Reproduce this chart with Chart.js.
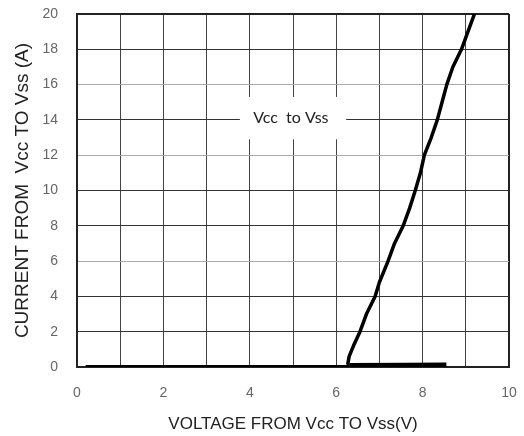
<!DOCTYPE html>
<html><head><meta charset="utf-8">
<script src="https://cdn.jsdelivr.net/npm/chart.js@4/dist/chart.umd.min.js"></script>
<style>html,body{margin:0;padding:0;background:#fff}#wrap{width:524px;height:436px}</style>
</head><body><div id="wrap"><canvas id="c" width="524" height="436"></canvas></div>
<script>
const xTicks = [0, 2, 4, 6, 8, 10];
const yTicks = [0, 2, 4, 6, 8, 10, 12, 14, 16, 18, 20];
const lightYGrid = [6, 12, 16];
const offVoltage = [0.2, 6.3];
const offCurrent = [0, 0];
const tailVoltage = [6.3, 7.6, 8.55];
const tailCurrent = [0.08, 0.1, 0.12];
const riseVoltage = [6.27, 6.3, 6.4, 6.55, 6.7, 6.9, 7.0, 7.2, 7.35, 7.55, 7.7, 7.83, 7.95, 8.04, 8.2, 8.34, 8.45, 8.56, 8.7, 8.9, 9.05, 9.2];
const riseCurrent = [0.2, 0.6, 1.2, 2, 3, 4, 4.8, 6, 7, 8, 9, 10, 11, 12, 13, 14, 15, 16, 17, 18, 19, 20];
const labelText = 'Vcc  to Vss';
const labelPos = {x: 4.95, y: 14.1};
const labelBox = {x0: 3.77, x1: 6.23, y0: 12.9, y1: 15.3};

const pts = (xs, ys) => xs.map((x, i) => ({x, y: ys[i]}));

const labelPlugin = {
  id: 'labelBox',
  beforeDatasetsDraw(chart) {
    const {ctx, scales: {x, y}} = chart;
    const l = x.getPixelForValue(labelBox.x0), r = x.getPixelForValue(labelBox.x1);
    const t = y.getPixelForValue(labelBox.y1), b = y.getPixelForValue(labelBox.y0);
    ctx.save();
    ctx.fillStyle = '#fff';
    ctx.fillRect(l, t, r - l, b - t);
    ctx.fillStyle = '#222';
    ctx.font = '16px Lato, "Open Sans", sans-serif';
    ctx.textAlign = 'center';
    ctx.textBaseline = 'middle';
    ctx.fillText(labelText, x.getPixelForValue(labelPos.x), y.getPixelForValue(labelPos.y));
    ctx.restore();
  }
};

const tickFont = {family: '"Liberation Sans Narrow", "Liberation Sans", sans-serif', size: 14};

new Chart(document.getElementById('c'), {
  type: 'scatter',
  data: {
    datasets: [
      {data: pts(offVoltage, offCurrent), showLine: true, borderColor: '#000', borderWidth: 4, pointRadius: 0},
      {data: pts(tailVoltage, tailCurrent), showLine: true, borderColor: '#000', borderWidth: 5, pointRadius: 0},
      {data: pts(riseVoltage, riseCurrent), showLine: true, borderColor: '#000', borderWidth: 3.5, pointRadius: 0, borderJoinStyle: 'round', borderCapStyle: 'round'}
    ]
  },
  options: {
    responsive: false,
    animation: false,
    events: [],
    layout: {padding: {top: 14, right: 15, left: 0, bottom: 0}},
    plugins: {legend: {display: false}, tooltip: {enabled: false}},
    scales: {
      x: {
        type: 'linear', min: 0, max: 10,
        afterFit(s) { s.height = 69; s.paddingLeft = 0; s.paddingRight = 0; },
        afterBuildTicks(s) { s.ticks = []; for (let v = 0; v <= 10; v++) s.ticks.push({value: v}); },
        ticks: {
          padding: 18, color: '#666', font: tickFont,
          callback: v => xTicks.includes(v) ? String(v) : ''
        },
        grid: {drawTicks: false, color: ctx => ctx.index === 10 ? '#222' : '#444', lineWidth: ctx => ctx.index === 10 ? 2 : 1},
        border: {color: '#222', width: 2},
        title: {display: true, text: 'VOLTAGE FROM Vcc TO Vss(V)', color: '#222', font: {family: 'Liberation Sans', size: 17}, padding: {top: 0, bottom: 1}}
      },
      y: {
        type: 'linear', min: 0, max: 20,
        afterFit(s) { s.width = 77; s.paddingTop = 0; s.paddingBottom = 0; },
        afterBuildTicks(s) { s.ticks = yTicks.map(v => ({value: v})); },
        ticks: {padding: 19, color: '#666', font: tickFont},
        grid: {
          drawTicks: false,
          color: ctx => (ctx.tick && lightYGrid.includes(ctx.tick.value)) ? '#aaa' : (ctx.tick && ctx.tick.value === 20 ? '#222' : '#333'),
          lineWidth: ctx => (ctx.tick && ctx.tick.value === 20) ? 2 : 1
        },
        border: {color: '#222', width: 2},
        title: {display: true, text: 'CURRENT FROM  Vcc TO Vss (A)', color: '#222', font: {family: 'Liberation Sans', size: 19}, padding: {top: 11, bottom: 0}}
      }
    }
  },
  plugins: [labelPlugin]
});
</script></body></html>
